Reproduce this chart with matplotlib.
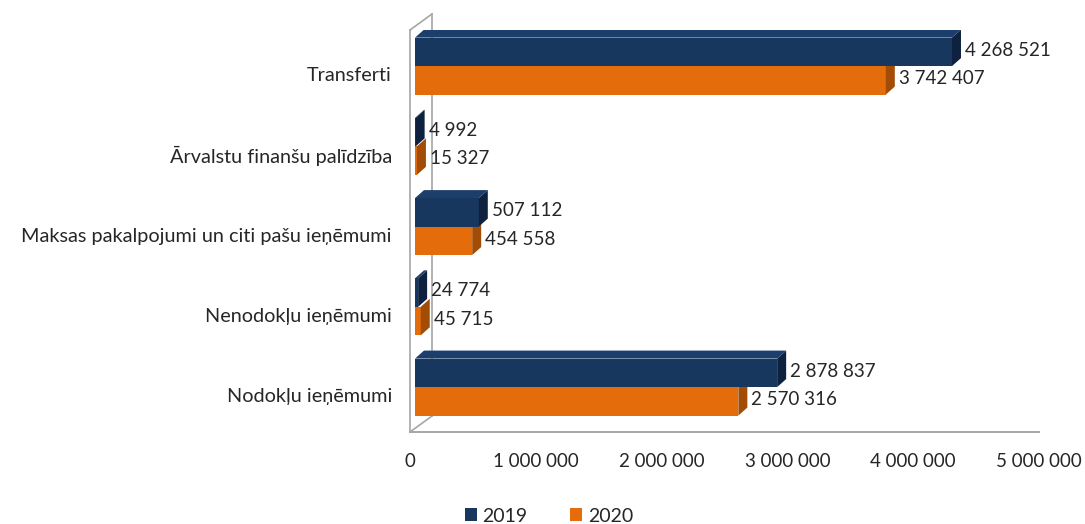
import matplotlib
matplotlib.use("Agg")
import matplotlib.pyplot as plt
from matplotlib.patches import Polygon, Patch
from matplotlib.transforms import ScaledTranslation

categories = ["Nodokļu ieņēmumi", "Nenodokļu ieņēmumi",
              "Maksas pakalpojumi un citi pašu ieņēmumi",
              "Ārvalstu finanšu palīdzība", "Transferti"]
vals_2019 = [2878837, 24774, 507112, 4992, 4268521]
vals_2020 = [2570316, 45715, 454558, 15327, 3742407]
series_names = ["2019", "2020"]
xticks = [0, 1000000, 2000000, 3000000, 4000000, 5000000]

def fmt(v):
    return f"{v:,}".replace(",", " ")

plt.rcParams['font.family'] = ['Lato', 'DejaVu Sans']
W, H = 1085, 524
fig = plt.figure(figsize=(W / 100, H / 100), dpi=100)
left_px, right_px, bot_px, top_px = 410, 1039, 432, 30
ax = fig.add_axes([left_px / W, 1 - bot_px / H, (right_px - left_px) / W, (bot_px - top_px) / H])
xmax = 5000000
ymin, ymax = -0.56, 4.45
ax.set_xlim(0, xmax)
ax.set_ylim(ymin, ymax)

px_x = xmax / (right_px - left_px)
px_y = (ymax - ymin) / (bot_px - top_px)

navy, navy_side, navy_top = "#17375e", "#0e2240", "#1c3e6a"
orange, orange_side, orange_top = "#e46c0a", "#a34c06", "#ee8a3a"
text_c = "#262626"

# back wall / floor outline
wall_dx, wall_dy = 22 * px_x, 16 * px_y
wall_c = "#a6a6a6"
ax.plot([0, 0], [ymin, ymax], color=wall_c, lw=1.2, clip_on=False, zorder=1)
ax.plot([0, wall_dx], [ymax, ymax + wall_dy], color=wall_c, lw=1.2, clip_on=False, zorder=1)
ax.plot([wall_dx, wall_dx], [ymax + wall_dy, ymin + wall_dy], color=wall_c, lw=1.2, clip_on=False, zorder=1)
ax.plot([0, wall_dx], [ymin, ymin + wall_dy], color=wall_c, lw=1.2, clip_on=False, zorder=1)
ax.plot([0, xmax], [ymin, ymin], color=wall_c, lw=1.4, clip_on=False, zorder=1)

h = 0.355
shift = 5 * px_x
dx, dy = 9 * px_x, 8 * px_y

def bar3d(y0, v, front, side, top, draw_top):
    x0 = shift
    x1 = shift + v
    ax.barh(y0 + h / 2, v, height=h, left=x0, color=front, edgecolor='none', zorder=3)
    ax.add_patch(Polygon([(x1, y0), (x1, y0 + h), (x1 + dx, y0 + h + dy), (x1 + dx, y0 + dy)],
                         closed=True, facecolor=side, edgecolor='none', zorder=3))
    if draw_top:
        ax.add_patch(Polygon([(x0, y0 + h), (x1, y0 + h), (x1 + dx, y0 + h + dy), (x0 + dx, y0 + h + dy)],
                             closed=True, facecolor=top, edgecolor='none', zorder=3))

val_fs = 13.5
for i in range(len(categories)):
    bar3d(i - h, vals_2020[i], orange, orange_side, orange_top, False)
    bar3d(i, vals_2019[i], navy, navy_side, navy_top, True)
    pad = 4 * px_x
    ax.text(shift + vals_2019[i] + dx + pad, i + h / 2 + 0.02, fmt(vals_2019[i]),
            ha='left', va='center', fontsize=val_fs, color=text_c, zorder=4)
    ax.text(shift + vals_2020[i] + dx + pad, i - h / 2 + 0.02, fmt(vals_2020[i]),
            ha='left', va='center', fontsize=val_fs, color=text_c, zorder=4)

ax.set_yticks(range(len(categories)))
ax.set_yticklabels(categories, fontsize=14.3, color=text_c)
ax.set_xticks(xticks)
ax.set_xticklabels([fmt(t) for t in xticks], fontsize=13.5, color=text_c)
ax.tick_params(axis='y', length=0, pad=13)
ax.tick_params(axis='x', length=0, pad=15)
for lab in ax.get_yticklabels():
    lab.set_transform(lab.get_transform() + ScaledTranslation(0, -6 / 72, fig.dpi_scale_trans))
for s in ax.spines.values():
    s.set_visible(False)
ax.set_facecolor('none')

handles = [Patch(facecolor=navy, edgecolor='none'), Patch(facecolor=orange, edgecolor='none')]
fig.legend(handles, series_names, loc='center', bbox_to_anchor=(549 / W, 1 - 516 / H),
           ncol=2, frameon=False, fontsize=14, handlelength=0.6, handleheight=0.6,
           handletextpad=0.3, columnspacing=2.2, labelcolor=text_c)

fig.savefig("out.png", dpi=100)
